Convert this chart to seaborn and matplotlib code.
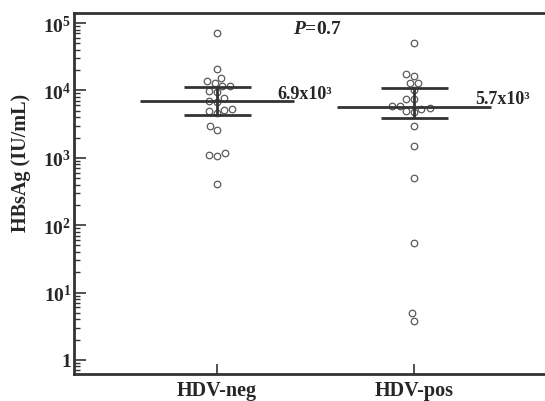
import numpy as np
import pandas as pd
import matplotlib
matplotlib.use("Agg")
import matplotlib.pyplot as plt
from matplotlib.ticker import LogLocator, NullFormatter
import seaborn as sns

# values
groups = ["HDV-neg", "HDV-pos"]
hdv_neg = [71000, 21000, 15100, 13900, 12700, 11700, 11500, 9700, 9380, 7640, 7040,
           6790, 5300, 5170, 4900, 4580, 2990, 2560, 1160, 1110, 1070, 405]
hdv_pos = [50500, 17500, 16200, 12700, 12700, 10100, 7450, 7450, 5930, 5930,
           5420, 5300, 5000, 4730, 2930, 1510, 500, 54, 4.9, 3.8]
medians = [6900, 5700]
q_upper = [11100, 10700]
q_lower = [4360, 3860]
median_labels = ["6.9x10³", "5.7x10³"]
y_ticks = [1, 10, 100, 1000, 10000, 100000]
y_tick_labels = ["1", "$10^{1}$", "$10^{2}$", "$10^{3}$", "$10^{4}$", "$10^{5}$"]

df = pd.DataFrame({
    "group": [groups[0]] * len(hdv_neg) + [groups[1]] * len(hdv_pos),
    "HBsAg": hdv_neg + hdv_pos,
})

sns.set_style("ticks")
plt.rcParams["font.family"] = ["Liberation Serif", "DejaVu Serif"]
plt.rcParams["font.weight"] = "bold"
plt.rcParams["mathtext.fontset"] = "custom"
plt.rcParams["mathtext.rm"] = "Liberation Serif:bold"
plt.rcParams["mathtext.bf"] = "Liberation Serif:bold"
plt.rcParams["mathtext.it"] = "Liberation Serif:bold:italic"

dark = "#333333"

fig = plt.figure(figsize=(5.45, 4.02), dpi=100)
ax = fig.add_axes([0.136, 0.067, 0.864, 0.898])

sns.swarmplot(data=df, x="group", y="HBsAg", order=groups, color="white",
              edgecolor="#5a5a5a", linewidth=0.9, size=4.7, log_scale=True,
              ax=ax, zorder=2)

# median and interquartile bars
for i in range(len(groups)):
    ax.hlines(medians[i], i - 0.39, i + 0.39, color=dark, lw=2, zorder=3)
    ax.hlines([q_lower[i], q_upper[i]], i - 0.17, i + 0.17, color=dark, lw=2, zorder=3)
    ax.vlines(i, q_lower[i], q_upper[i], color=dark, lw=2, zorder=3)

ax.text(0.305, 8850, median_labels[0], fontsize=13, fontweight="bold",
        ha="left", va="center")
ax.text(1.31, 7640, median_labels[1], fontsize=13, fontweight="bold",
        ha="left", va="center")
ax.text(0.51, 8.2e4, r"$\mathit{P}$=0.7", fontsize=14, fontweight="bold",
        ha="center", va="center")

ax.set_xlim(-0.726, 1.665)
ax.set_ylim(10 ** -0.21, 10 ** 5.148)
ax.set_yticks(y_ticks, y_tick_labels)
ax.yaxis.set_minor_locator(LogLocator(base=10, subs=np.arange(2, 10), numticks=20))
ax.yaxis.set_minor_formatter(NullFormatter())

ax.set_xlabel("")
ax.set_ylabel("HBsAg (IU/mL)", fontsize=14.5, fontweight="bold")
ax.yaxis.set_label_coords(-0.091, 0.587)

for s in ["left", "bottom", "top"]:
    ax.spines[s].set_linewidth(2)
    ax.spines[s].set_color(dark)
ax.spines["right"].set_visible(False)

ax.tick_params(axis="y", which="major", direction="in", length=8.5, width=1.2,
               color=dark, labelsize=14, pad=2)
ax.tick_params(axis="y", which="minor", direction="in", length=4.3, width=1,
               color=dark)
ax.tick_params(axis="x", which="major", direction="in", length=7, width=1.2,
               color=dark, labelsize=14.5, pad=4)
ax.tick_params(axis="x", which="minor", bottom=False)

fig.savefig("out.png", dpi=100)
